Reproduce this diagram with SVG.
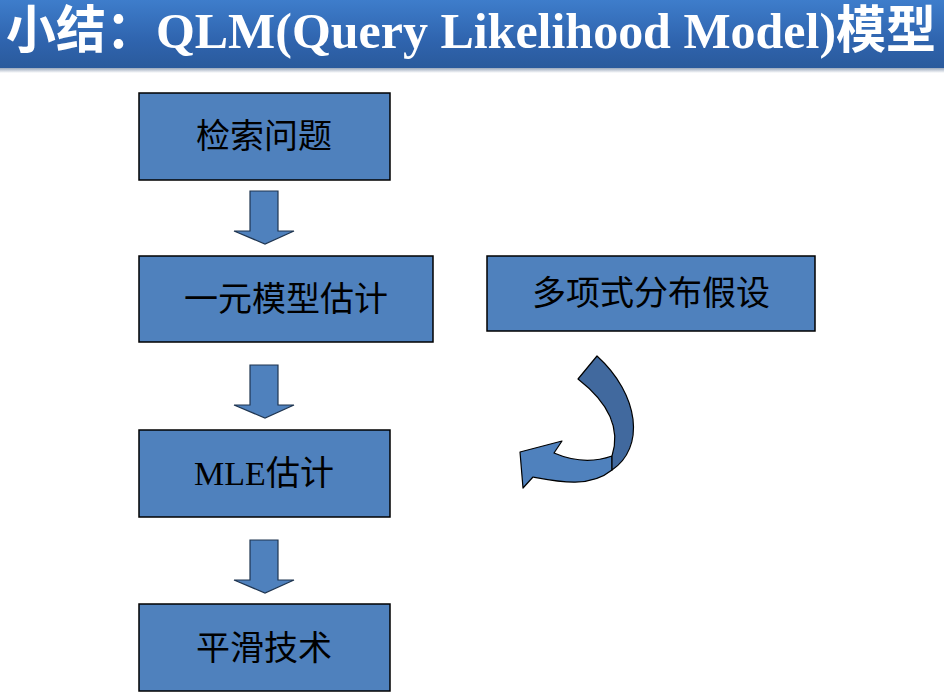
<svg xmlns="http://www.w3.org/2000/svg" width="944" height="695" viewBox="0 0 944 695">
<defs>
<linearGradient id="hdr" x1="0" y1="0" x2="0" y2="1">
<stop offset="0" stop-color="#3E7DCB"/>
<stop offset="0.6" stop-color="#2F64AE"/>
<stop offset="1" stop-color="#2A5A9C"/>
</linearGradient>
<linearGradient id="shadow" x1="0" y1="0" x2="0" y2="1">
<stop offset="0" stop-color="#9AA8BC"/>
<stop offset="1" stop-color="#FFFFFF"/>
</linearGradient>
<style>
.box{fill:#4F81BD;stroke:#000;stroke-width:1.5}
.lbl{font-family:"Noto Sans CJK SC","Liberation Sans",sans-serif;font-size:34px;fill:#000;text-anchor:middle}
.arr{fill:#4F81BD;stroke:#1F3550;stroke-width:1.2;stroke-linejoin:miter}
</style>
</defs>
<rect width="944" height="695" fill="#fff"/>
<g id="header">
<rect x="0" y="0" width="944" height="68" fill="url(#hdr)"/>
<rect x="0" y="68" width="944" height="5" fill="url(#shadow)"/>
<text transform="scale(1,1.2)" x="6" y="40" textLength="930" lengthAdjust="spacingAndGlyphs" font-family="'Liberation Serif','Noto Sans CJK SC',serif" font-weight="bold" font-size="43" fill="#fff">小结：QLM(Query Likelihood Model)模型</text>
</g>
<g id="n1"><rect class="box" x="139" y="93" width="251" height="87"/><text class="lbl" x="264" y="148">检索问题</text></g>
<g id="n2"><rect class="box" x="139" y="256" width="294" height="86"/><text class="lbl" x="286" y="311">一元模型估计</text></g>
<g id="n3"><rect class="box" x="139" y="430" width="251" height="87"/><text class="lbl" x="264" y="485"><tspan font-family="'Liberation Serif',serif">MLE</tspan>估计</text></g>
<g id="n4"><rect class="box" x="139" y="604" width="251" height="87"/><text class="lbl" x="264" y="660">平滑技术</text></g>
<g id="n5"><rect class="box" x="487" y="256" width="328" height="75"/><text class="lbl" x="651" y="305">多项式分布假设</text></g>
<g id="connectors">
<path class="arr" d="M250,191 H278 V231 H294 L265,244 L234,231 H250 Z"/>
<path class="arr" d="M250,365 H278 V405 H294 L265,418 L234,405 H250 Z"/>
<path class="arr" d="M250,540 H278 V580 H294 L265,593 L234,580 H250 Z"/>
<path d="M554,453 C575,462 595,462 612,456 L612,470 C590,488 560,482 533,477 L523,488 L520,452 L562,441 Z" fill="#4F81BD" stroke="#000" stroke-width="1.2" stroke-linejoin="round"/>
<path d="M597,356 C640,395 645,448 612,470 L612,456 C622,425 605,400 578,379 Z" fill="#41699E" stroke="#000" stroke-width="1.2" stroke-linejoin="round"/>
</g>
</svg>
